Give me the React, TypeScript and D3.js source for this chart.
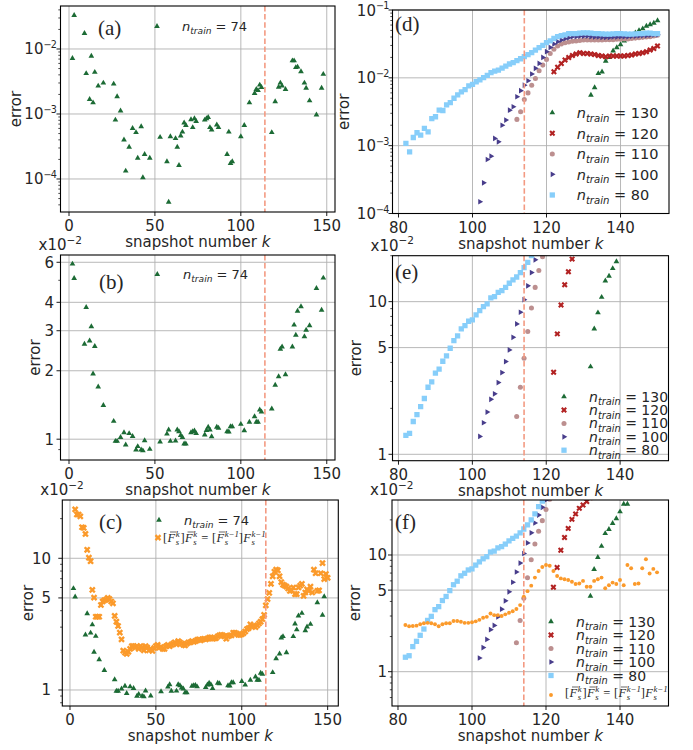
import React from "react";
import * as d3 from "d3";

// ---------------- data ----------------
const kSparse = [2,3,9,10,12,13,14,15,17,20,26,27,28,30,32,33,35,37,39,40,42,43,44,47,53,57,58,59,62,63,64,65,66,67,68,71,72,73,74,79,80,81,82,83,86,87,92,93,94,95,100,102,105,108,109,110,111,112,118,120,122,123,124,126,130,131,132,133,135,137,138,140,144,147,148];

const errA74 = [7.2e-3,3.3e-2,1.74e-2,4.2e-3,1.68e-3,7.8e-3,1.49e-3,4.4e-3,2.7e-3,3.0e-3,2.9e-3,8.1e-4,1.85e-3,1.12e-3,4.0e-4,1.33e-4,3.1e-4,6.0e-4,5.2e-4,2.1e-4,6.4e-4,1.05e-4,2.4e-4,2.1e-4,4.4e-4,1.85e-4,4.4e-5,4.5e-4,4.2e-4,3.1e-4,1.62e-4,4.6e-4,5.3e-4,7.3e-4,6.7e-4,8.2e-4,6.2e-4,8.5e-4,7.7e-4,8.1e-4,8.5e-4,8.9e-4,6.2e-4,5.7e-4,6.8e-4,6.2e-4,2.4e-4,5.3e-4,1.74e-4,1.85e-4,4.5e-4,6.7e-4,1.49e-3,2.08e-3,2.4e-3,2.3e-3,2.8e-3,2.57e-3,5.2e-4,1.55e-3,2.6e-3,3.0e-3,2.7e-3,2.4e-3,6.6e-3,6.6e-3,5.2e-3,5.3e-3,4.5e-3,3.0e-3,2.5e-3,1.6e-3,9.7e-4,2.5e-3,4.1e-3];

const errB74 = [5.9,5.1,2.62,3.8,2.71,3.13,1.94,2.56,1.70,1.41,1.20,0.98,0.98,1.02,1.07,0.944,1.06,1.03,0.898,0.929,0.898,0.89,0.987,0.904,0.973,1.055,1.099,0.98,0.983,1.099,1.08,1.04,1.02,0.954,0.954,1.07,1.08,1.088,1.06,1.045,1.095,1.13,1.099,1.027,1.13,1.12,1.08,1.077,1.137,1.137,1.164,1.092,1.19,1.258,1.19,1.19,1.346,1.32,1.36,1.73,1.885,2.49,2.55,1.925,2.55,3.18,2.87,3.66,3.83,2.83,3.02,3.16,4.61,3.7,5.12];

const kOrange = d3.range(3, 151);
const errOrange = [
  23.5,21.5,21.5,20.8,17.2,17.0,15.3,11.6,10.1,9.5,
  5.75,5.03,3.6,3.6,3.6,4.42,4.7,4.8,4.85,5.0,
  4.9,4.7,4.55,3.65,3.3,3.06,2.73,2.42,1.99,1.92,
  1.88,1.95,2.05,2.15,2.15,2.1,2.15,2.05,2.15,2.1,
  2.0,2.15,2.1,2.0,2.05,1.98,2.08,2.15,2.2,2.1,
  2.12,2.05,2.05,2.15,2.2,2.15,2.2,2.25,2.3,2.22,
  2.35,2.3,2.25,2.2,2.18,2.25,2.3,2.3,2.35,2.32,
  2.35,2.4,2.42,2.38,2.42,2.45,2.42,2.45,2.5,2.51,
  2.45,2.46,2.48,2.55,2.6,2.62,2.6,2.55,2.45,2.55,
  2.6,2.6,2.72,2.72,2.68,2.62,2.62,2.65,2.7,2.78,
  2.9,2.95,3.15,3.05,3.05,3.0,3.1,3.2,3.3,3.45,
  3.72,4.39,4.9,5.46,6.4,7.3,7.9,8.2,8.1,7.3,
  6.6,6.3,6.2,6.1,5.9,5.65,5.7,6.0,5.35,5.35,
  6.0,6.2,6.4,5.18,5.5,5.8,5.65,6.1,5.5,8.2,
  7.7,5.65,5.7,7.7,9.2,6.95,7.6,7.1
];

// panel (d): absolute error
const kD80 = d3.range(82, 151);
const errD80 = [
  1.08e-3,8.1e-4,1.32e-3,1.55e-3,1.43e-3,1.8e-3,1.6e-3,2.5e-3,2.67e-3,3.34e-3,
  3.3e-3,4.0e-3,4.3e-3,5.0e-3,5.6e-3,6.2e-3,6.7e-3,7.6e-3,8.0e-3,8.75e-3,
  9.3e-3,1.01e-2,1.09e-2,1.19e-2,1.26e-2,1.3e-2,1.39e-2,1.49e-2,1.6e-2,1.67e-2,
  1.79e-2,1.91e-2,2.05e-2,2.2e-2,2.35e-2,2.57e-2,2.78e-2,3.0e-2,3.3e-2,3.5e-2,
  3.8e-2,4.05e-2,4.2e-2,4.3e-2,4.5e-2,4.5e-2,4.5e-2,4.55e-2,4.6e-2,4.6e-2,
  4.55e-2,4.5e-2,4.5e-2,4.45e-2,4.4e-2,4.4e-2,4.45e-2,4.5e-2,4.5e-2,4.45e-2,
  4.4e-2,4.4e-2,4.45e-2,4.5e-2,4.5e-2,4.55e-2,4.55e-2,4.5e-2,4.5e-2
];
const kD100 = d3.range(102, 151);
const errD100 = [
  1.49e-4,2.83e-4,6.25e-4,7.0e-4,1.28e-3,1.14e-3,2.0e-3,2.38e-3,3.34e-3,3.75e-3,
  5.26e-3,6.46e-3,7.8e-3,9.05e-3,1.14e-2,1.38e-2,1.63e-2,2.0e-2,2.43e-2,2.81e-2,
  3.15e-2,3.41e-2,3.6e-2,3.78e-2,3.9e-2,4.03e-2,4.05e-2,4.1e-2,4.1e-2,4.1e-2,
  4.05e-2,4.0e-2,4.0e-2,3.95e-2,3.95e-2,3.95e-2,4.0e-2,4.0e-2,4.05e-2,4.05e-2,
  4.05e-2,4.1e-2,4.1e-2,4.15e-2,4.2e-2,4.2e-2,4.25e-2,4.3e-2,4.3e-2
];
const kD110 = d3.range(112, 151);
const errD110 = [
  2.44e-3,3.16e-3,4.8e-3,6.0e-3,7.8e-3,9.8e-3,1.27e-2,1.54e-2,1.87e-2,2.29e-2,
  2.63e-2,2.94e-2,3.15e-2,3.3e-2,3.37e-2,3.45e-2,3.5e-2,3.55e-2,3.6e-2,3.6e-2,
  3.6e-2,3.6e-2,3.6e-2,3.6e-2,3.65e-2,3.65e-2,3.65e-2,3.7e-2,3.7e-2,3.75e-2,
  3.75e-2,3.8e-2,3.85e-2,3.9e-2,3.95e-2,4.0e-2,4.05e-2,4.15e-2,4.25e-2
];
const kD120 = d3.range(122, 151);
const errD120 = [
  1.23e-2,1.43e-2,1.63e-2,1.83e-2,2.0e-2,2.14e-2,2.24e-2,2.34e-2,2.29e-2,2.29e-2,
  2.24e-2,2.2e-2,2.14e-2,2.1e-2,2.05e-2,2.1e-2,2.1e-2,2.1e-2,2.1e-2,2.1e-2,
  2.14e-2,2.17e-2,2.24e-2,2.29e-2,2.34e-2,2.43e-2,2.57e-2,2.7e-2,2.94e-2
];
const kD130 = d3.range(132, 151);
const errD130 = [5.57e-3,7.2e-3,1.16e-2,1.23e-2,1.77e-2,2.0e-2,2.5e-2,2.8e-2,3.1e-2,3.5e-2,3.9e-2,4.2e-2,4.6e-2,5.0e-2,5.3e-2,5.8e-2,6.1e-2,6.4e-2,7.0e-2];

// panels (e),(f): relative error (x1e-2)
const kE80 = d3.range(82, 121);
const errE80 = [1.33,1.37,1.64,1.82,2.05,2.32,2.75,2.98,3.4,3.61,4.07,4.41,4.95,5.56,5.96,6.63,6.97,7.44,7.6,8.19,8.73,9.28,9.67,10.6,10.8,11.5,11.8,12.4,13.2,13.9,14.5,15.5,16.7,18.1,20.0,22.5,26.0,29.0,32.0];
const kE100 = d3.range(102, 122);
const errE100 = [1.31,1.61,1.89,2.29,2.49,2.95,3.43,4.05,4.83,5.84,7.15,8.52,10.3,12.7,15.5,18.8,22.0,25.6,29.6,34.0];
const kE110 = d3.range(112, 122);
const errE110 = [1.77,2.75,4.26,6.37,9.1,12.4,16.0,19.7,24.5,30.0];
const kE120 = d3.range(122, 129);
const errE120 = [3.45,6.15,9.52,12.9,15.7,19.0,23.0];
const kE130 = d3.range(132, 141);
const errE130 = [3.75,6.63,8.47,10.7,13.7,14.7,16.5,18.3,21.0];
const kF120 = d3.range(122, 133);
const errF120 = [5.3,7.8,11.0,14.1,16.9,20.2,22.5,25.1,26.8,28.7,31.0];
const kF130 = d3.range(132, 144);
const errF130 = [4.45,7.54,9.55,11.9,15.3,16.6,18.7,20.5,23.5,27.3,27.3,31.0];

const nTrainLabels = ["130", "120", "110", "100", "80"];
const xTicksAll = [0, 50, 100, 150];
const xTicksZoom = [80, 100, 120, 140];
const trainEnd = 114;

// ---------------- style ----------------
const FONT = "'DejaVu Sans', sans-serif";
const SERIF = "'Liberation Serif', 'DejaVu Serif', serif";
const TXT = "#262626";
const COL = {
  green: "#1c6b35",
  red: "#b22222",
  rosy: "#bc8f8f",
  slate: "#483d8b",
  sky: "#87cefa",
  orange: "#fb9a2b",
};

type Shape = "tri" | "triR" | "circle" | "square" | "X" | "dot";
const symType = (s: Shape) =>
  s === "tri" || s === "triR" ? d3.symbolTriangle :
  s === "circle" || s === "dot" ? d3.symbolCircle :
  s === "square" ? d3.symbolSquare : d3.symbolCross;
const symRot = (s: Shape) => (s === "triR" ? 90 : s === "X" ? 45 : 0);

function Mark({ shape, size, color, x, y }: any) {
  const d = d3.symbol().type(symType(shape)).size(size)() as string;
  return <path d={d} fill={color} transform={`translate(${x},${y}) rotate(${symRot(shape)})`} />;
}

type SeriesT = { k: number[]; v: number[]; shape: Shape; size: number; color: string };

const S = {
  a74: { k: kSparse, v: errA74, shape: "tri", size: 14, color: COL.green } as SeriesT,
  b74: { k: kSparse, v: errB74, shape: "tri", size: 14, color: COL.green } as SeriesT,
  orX: { k: kOrange, v: errOrange, shape: "X", size: 28, color: COL.orange } as SeriesT,
  orDot: { k: kOrange.filter((k) => k >= 82), v: errOrange.filter((_, i) => kOrange[i] >= 82), shape: "dot", size: 12, color: COL.orange } as SeriesT,
};

const dSeries: SeriesT[] = [
  { k: kD130, v: errD130, shape: "tri", size: 14, color: COL.green },
  { k: kD120, v: errD120, shape: "X", size: 22, color: COL.red },
  { k: kD110, v: errD110, shape: "circle", size: 20, color: COL.rosy },
  { k: kD100, v: errD100, shape: "triR", size: 14, color: COL.slate },
  { k: kD80, v: errD80, shape: "square", size: 28, color: COL.sky },
];
const eSeries: SeriesT[] = [
  { k: kE130, v: errE130, shape: "tri", size: 14, color: COL.green },
  { k: kE120, v: errE120, shape: "X", size: 22, color: COL.red },
  { k: kE110, v: errE110, shape: "circle", size: 20, color: COL.rosy },
  { k: kE100, v: errE100, shape: "triR", size: 14, color: COL.slate },
  { k: kE80, v: errE80, shape: "square", size: 28, color: COL.sky },
];
const fSeries: SeriesT[] = [
  { k: kF130, v: errF130, shape: "tri", size: 14, color: COL.green },
  { k: kF120, v: errF120, shape: "X", size: 22, color: COL.red },
  { k: kE110, v: errE110, shape: "circle", size: 20, color: COL.rosy },
  { k: kE100, v: errE100, shape: "triR", size: 14, color: COL.slate },
  { k: kE80, v: errE80, shape: "square", size: 28, color: COL.sky },
  S.orDot,
];

function decadeMinors(lo: number, hi: number) {
  const out: number[] = [];
  for (let e = Math.floor(Math.log10(lo)); e <= Math.ceil(Math.log10(hi)); e++) {
    for (let m = 2; m <= 9; m++) {
      const v = m * Math.pow(10, e);
      if (v >= lo && v <= hi) out.push(v);
    }
  }
  return out;
}

// ---------------- text helpers ----------------
function NTrain({ x, y, n, fs }: any) {
  return (
    <text x={x} y={y} fontFamily={FONT} fontSize={fs} fill={TXT}>
      <tspan fontStyle="italic">n</tspan>
      <tspan fontStyle="italic" fontSize={fs * 0.7} dy={fs * 0.25}>train</tspan>
      <tspan dy={-fs * 0.25}>{` = ${n}`}</tspan>
    </text>
  );
}

function Formula({ x, y, fs }: any) {
  // [F̄_s^k] F̄_s^k = [F̄_s^{k-1}] F_s^{k-1}
  const sc = fs * 0.7;
  const spans: any[] = [];
  const bars: any[] = [];
  let cx = x;
  const put = (t: string, w: number, italic = false) => {
    spans.push({ t, x: cx, y, size: fs, italic });
    cx += w * fs;
  };
  const F = (bar: boolean, sup: string, supW: number) => {
    const fx = cx;
    put("F", 0.66, true);
    if (bar) bars.push({ x1: fx + 0.2 * fs, x2: fx + 0.7 * fs, y: y - 0.8 * fs });
    spans.push({ t: sup, x: cx, y: y - 0.4 * fs, size: sc, italic: true });
    spans.push({ t: "s", x: cx, y: y + 0.22 * fs, size: sc, italic: true });
    cx += supW * sc;
  };
  put("[", 0.36);
  F(true, "k", 0.55);
  put("]", 0.36);
  F(true, "k", 0.55);
  put(" = ", 1.1);
  put("[", 0.36);
  F(true, "k\u22121", 1.6);
  put("]", 0.36);
  F(false, "k\u22121", 1.6);
  return (
    <g>
      <text fontFamily={SERIF} fill={TXT}>
        {spans.map((s, i) => (
          <tspan key={i} x={s.x} y={s.y} fontSize={s.size} fontStyle={s.italic ? "italic" : "normal"}>{s.t}</tspan>
        ))}
      </text>
      {bars.map((b, i) => (
        <line key={i} x1={b.x1} x2={b.x2} y1={b.y} y2={b.y} stroke={TXT} strokeWidth={0.7} />
      ))}
    </g>
  );
}

function Pow({ x, y, exp, fs, anchor = "end" }: any) {
  return (
    <text x={x} y={y} fontFamily={FONT} fontSize={fs} fill={TXT} textAnchor={anchor}>
      <tspan>10</tspan>
      <tspan fontSize={fs * 0.64} letterSpacing={-0.8} dy={-fs * 0.42}>{`\u2212${exp}`}</tspan>
    </text>
  );
}

// ---------------- panel ----------------
type PanelCfg = {
  id: string;
  x0: number; x1: number; y0: number; y1: number;
  xDom: [number, number]; yDom: [number, number];
  xTicks: number[];
  yMajor: number[]; yPow?: boolean;
  yMinor: number[];
  tickRight: number;
  ylabX: number;
  series: SeriesT[];
  tag: string; tagX: number; tagY: number;
  offset?: boolean;
};

function Panel({ p, children }: { p: PanelCfg; children?: any }) {
  const x = d3.scaleLinear().domain(p.xDom).range([p.x0, p.x1]);
  const y = d3.scaleLog().domain(p.yDom).range([p.y1, p.y0]);
  const cid = `clip-${p.id}`;
  const fs = 15;
  return (
    <g>
      <defs>
        <clipPath id={cid}>
          <rect x={p.x0} y={p.y0} width={p.x1 - p.x0} height={p.y1 - p.y0} />
        </clipPath>
      </defs>
      {p.xTicks.map((t) => (
        <line key={"gx" + t} x1={x(t)} x2={x(t)} y1={p.y0} y2={p.y1} stroke="#b0b0b0" strokeWidth={0.9} />
      ))}
      {p.yMajor.map((t) => (
        <line key={"gy" + t} x1={p.x0} x2={p.x1} y1={y(t)} y2={y(t)} stroke="#b0b0b0" strokeWidth={0.9} />
      ))}
      <g clipPath={`url(#${cid})`}>
        {p.series.map((s, si) => (
          <g key={si}>
            {s.k.map((k, i) => (
              <Mark key={i} shape={s.shape} size={s.size} color={s.color} x={x(k)} y={y(s.v[i])} />
            ))}
          </g>
        ))}
        <line x1={x(trainEnd)} x2={x(trainEnd)} y1={p.y0} y2={p.y1} stroke="#f39a82" strokeWidth={1.6} strokeDasharray="5.5,2.6" />
      </g>
      <rect x={p.x0} y={p.y0} width={p.x1 - p.x0} height={p.y1 - p.y0} fill="none" stroke="#000" strokeWidth={1.1} />
      {p.xTicks.map((t) => (
        <g key={"xt" + t}>
          <line x1={x(t)} x2={x(t)} y1={p.y1} y2={p.y1 + 4} stroke="#000" strokeWidth={0.9} />
          <text x={x(t)} y={p.y1 + 19} fontFamily={FONT} fontSize={fs} fill={TXT} textAnchor="middle">{t}</text>
        </g>
      ))}
      <text x={(p.x0 + p.x1) / 2} y={p.y1 + 35} fontFamily={FONT} fontSize={fs} fill={TXT} textAnchor="middle">
        snapshot number <tspan fontStyle="italic">k</tspan>
      </text>
      {p.yMajor.map((t) => (
        <g key={"yt" + t}>
          <line x1={p.x0 - 4} x2={p.x0} y1={y(t)} y2={y(t)} stroke="#000" strokeWidth={0.9} />
          {p.yPow ? (
            <Pow x={p.tickRight} y={y(t) + 5.5} exp={Math.round(-Math.log10(t))} fs={fs} />
          ) : (
            <text x={p.tickRight} y={y(t) + 5.5} fontFamily={FONT} fontSize={fs} fill={TXT} textAnchor="end">{t}</text>
          )}
        </g>
      ))}
      {p.yMinor.map((t) => (
        <line key={"ym" + t} x1={p.x0 - 2.2} x2={p.x0} y1={y(t)} y2={y(t)} stroke="#000" strokeWidth={0.7} />
      ))}
      <text transform={`translate(${p.ylabX + 4},${(p.y0 + p.y1) / 2}) rotate(-90)`} fontFamily={FONT} fontSize={fs} fill={TXT} textAnchor="middle">error</text>
      {p.offset && (
        <text x={p.x0 - 22} y={p.y0 - 5} fontFamily={FONT} fontSize={fs} fill={TXT}>
          <tspan>x10</tspan>
          <tspan fontSize={fs * 0.7} dy={-fs * 0.42}>{"\u22122"}</tspan>
        </text>
      )}
      <text x={p.tagX} y={p.tagY} fontFamily={SERIF} fontSize={21} fill={TXT}>{p.tag}</text>
      {children}
    </g>
  );
}

const domAB: [number, number] = [-4.95, 154.8];
const domZoom: [number, number] = [78.38, 153.1];

const panels: PanelCfg[] = [
  {
    id: "a", x0: 60.5, x1: 335, y0: 6, y1: 212, xDom: domAB,
    yDom: [Math.pow(10, -4.508), Math.pow(10, -1.3385)], xTicks: xTicksAll,
    yMajor: [1e-2, 1e-3, 1e-4], yPow: true,
    yMinor: decadeMinors(Math.pow(10, -4.508), Math.pow(10, -1.3385)),
    tickRight: 56, ylabX: 17, series: [S.a74], tag: "(a)", tagX: 98, tagY: 35,
  },
  {
    id: "b", x0: 60.5, x1: 335, y0: 255, y1: 460, xDom: domAB,
    yDom: [0.81, 6.46], xTicks: xTicksAll, yMajor: [1, 2, 3, 4, 6], yMinor: [0.9, 5],
    tickRight: 54, ylabX: 36, series: [S.b74], tag: "(b)", tagX: 99, tagY: 288.5, offset: true,
  },
  {
    id: "c", x0: 62.3, x1: 338.3, y0: 500, y1: 706, xDom: [-4.48, 156.2],
    yDom: [0.756, 27.7], xTicks: xTicksAll, yMajor: [1, 5, 10],
    yMinor: decadeMinors(0.756, 27.7).filter((v) => v !== 5),
    tickRight: 51, ylabX: 29, series: [S.b74, S.orX], tag: "(c)", tagX: 99, tagY: 529.3, offset: true,
  },
  {
    id: "d", x0: 392.5, x1: 669, y0: 10, y1: 213.5, xDom: domZoom,
    yDom: [1e-4, 1e-1], xTicks: xTicksZoom, yMajor: [1e-1, 1e-2, 1e-3, 1e-4], yPow: true,
    yMinor: decadeMinors(1e-4, 1e-1), tickRight: 388.5, ylabX: 345, series: dSeries,
    tag: "(d)", tagX: 395, tagY: 31,
  },
  {
    id: "e", x0: 392.5, x1: 668.5, y0: 255.7, y1: 460.7, xDom: domZoom,
    yDom: [0.908, 20], xTicks: xTicksZoom, yMajor: [1, 5, 10],
    yMinor: decadeMinors(0.908, 20).filter((v) => v !== 5),
    tickRight: 387, ylabX: 357, series: eSeries, tag: "(e)", tagX: 395, tagY: 279.3, offset: true,
  },
  {
    id: "f", x0: 392, x1: 668.5, y0: 500, y1: 706, xDom: domZoom,
    yDom: [0.508, 29.6], xTicks: xTicksZoom, yMajor: [1, 5, 10],
    yMinor: decadeMinors(0.508, 29.6).filter((v) => v !== 5),
    tickRight: 387, ylabX: 356, series: fSeries, tag: "(f)", tagX: 395, tagY: 529.3, offset: true,
  },
];

function LegendRows({ rows, mx, tx, fs, series }: any) {
  return (
    <g>
      {rows.map((ry: number, i: number) => (
        <g key={i}>
          <Mark shape={series[i].shape} size={series[i].size} color={series[i].color} x={mx} y={ry} />
          <NTrain x={tx} y={ry + fs * 0.36} n={nTrainLabels[i]} fs={fs} />
        </g>
      ))}
    </g>
  );
}

export default function App() {
  return (
    <div style={{ position: "absolute", left: 0, top: 0 }}>
      <svg width={693} height={750} viewBox="0 0 693 750" style={{ display: "block", background: "#fff" }}>
        <rect width={693} height={750} fill="#fff" />
        <Panel p={panels[0]}>
          <Mark shape="tri" size={14} color={COL.green} x={157} y={26.3} />
          <NTrain x={182} y={30.5} n="74" fs={13} />
        </Panel>
        <Panel p={panels[1]}>
          <Mark shape="tri" size={14} color={COL.green} x={157.3} y={274.3} />
          <NTrain x={183} y={278.5} n="74" fs={13} />
        </Panel>
        <Panel p={panels[2]}>
          <Mark shape="tri" size={14} color={COL.green} x={159} y={520} />
          <NTrain x={184} y={524.5} n="74" fs={13} />
          <Mark shape="X" size={28} color={COL.orange} x={158} y={537.7} />
          <Formula x={163} y={542} fs={12.5} />
        </Panel>
        <Panel p={panels[3]}>
          <LegendRows rows={[112.7, 133.3, 154, 174.3, 195]} mx={552.3} tx={576.7} fs={14.5} series={dSeries} />
        </Panel>
        <Panel p={panels[4]}>
          <LegendRows rows={[396.7, 410, 423.4, 436.8, 450.2]} mx={564} tx={589} fs={14} series={eSeries} />
        </Panel>
        <Panel p={panels[5]}>
          <LegendRows rows={[621.5, 635, 648.5, 662, 675.5]} mx={551} tx={576} fs={14} series={fSeries} />
          <Mark shape="dot" size={12} color={COL.orange} x={551} y={695} />
          <Formula x={565} y={697} fs={12.5} />
        </Panel>
      </svg>
    </div>
  );
}
